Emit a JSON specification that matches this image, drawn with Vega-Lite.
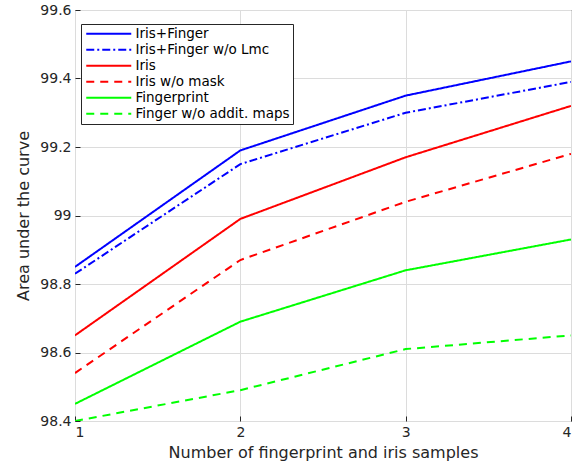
{
  "$schema": "https://vega.github.io/schema/vega-lite/v6.json",
  "width": 496,
  "height": 411,
  "autosize": "none",
  "padding": {"left": 75, "top": 10, "right": 10, "bottom": 50},
  "background": "white",
  "config": {
    "font": "DejaVu Sans",
    "view": {"stroke": "#262626", "strokeWidth": 1}
  },
  "data": {
    "values": [
      {"samples": 1, "series": "Iris+Finger", "auc": 98.85},
      {"samples": 2, "series": "Iris+Finger", "auc": 99.19},
      {"samples": 3, "series": "Iris+Finger", "auc": 99.35},
      {"samples": 4, "series": "Iris+Finger", "auc": 99.45},
      {"samples": 1, "series": "Iris+Finger w/o Lmc", "auc": 98.83},
      {"samples": 2, "series": "Iris+Finger w/o Lmc", "auc": 99.15},
      {"samples": 3, "series": "Iris+Finger w/o Lmc", "auc": 99.30},
      {"samples": 4, "series": "Iris+Finger w/o Lmc", "auc": 99.39},
      {"samples": 1, "series": "Iris", "auc": 98.65},
      {"samples": 2, "series": "Iris", "auc": 98.99},
      {"samples": 3, "series": "Iris", "auc": 99.17},
      {"samples": 4, "series": "Iris", "auc": 99.32},
      {"samples": 1, "series": "Iris w/o mask", "auc": 98.54},
      {"samples": 2, "series": "Iris w/o mask", "auc": 98.87},
      {"samples": 3, "series": "Iris w/o mask", "auc": 99.04},
      {"samples": 4, "series": "Iris w/o mask", "auc": 99.18},
      {"samples": 1, "series": "Fingerprint", "auc": 98.45},
      {"samples": 2, "series": "Fingerprint", "auc": 98.69},
      {"samples": 3, "series": "Fingerprint", "auc": 98.84},
      {"samples": 4, "series": "Fingerprint", "auc": 98.93},
      {"samples": 1, "series": "Finger w/o addit. maps", "auc": 98.40},
      {"samples": 2, "series": "Finger w/o addit. maps", "auc": 98.49},
      {"samples": 3, "series": "Finger w/o addit. maps", "auc": 98.61},
      {"samples": 4, "series": "Finger w/o addit. maps", "auc": 98.65}
    ]
  },
  "mark": {"type": "line", "strokeWidth": 2, "clip": true},
  "encoding": {
    "x": {
      "field": "samples",
      "type": "quantitative",
      "scale": {"domain": [1, 4], "nice": false, "zero": false},
      "axis": {
        "title": "Number of fingerprint and iris samples",
        "values": [1, 2, 3, 4],
        "format": "d",
        "domain": false,
        "tickSize": -5,
        "tickColor": "#262626",
        "gridColor": "#dcdcdc",
        "labelFontSize": 14,
        "labelColor": "#262626",
        "labelPadding": 9,
        "titleFontSize": 16,
        "titleFontWeight": "normal",
        "titleColor": "#262626",
        "titlePadding": 5
      }
    },
    "y": {
      "field": "auc",
      "type": "quantitative",
      "scale": {"domain": [98.4, 99.6], "nice": false, "zero": false},
      "axis": {
        "title": "Area under the curve",
        "values": [98.4, 98.6, 98.8, 99.0, 99.2, 99.4, 99.6],
        "format": "~g",
        "domain": false,
        "tickSize": -5,
        "tickColor": "#262626",
        "gridColor": "#dcdcdc",
        "labelFontSize": 14,
        "labelColor": "#262626",
        "labelPadding": 9,
        "titleFontSize": 16,
        "titleFontWeight": "normal",
        "titleColor": "#262626",
        "titlePadding": 8
      }
    },
    "color": {
      "field": "series",
      "type": "nominal",
      "scale": {
        "domain": ["Iris+Finger", "Iris+Finger w/o Lmc", "Iris", "Iris w/o mask", "Fingerprint", "Finger w/o addit. maps"],
        "range": ["#0000ff", "#0000ff", "#ff0000", "#ff0000", "#00ff00", "#00ff00"]
      },
      "legend": {
        "title": null,
        "orient": "none",
        "legendX": 6,
        "legendY": 14,
        "fillColor": "white",
        "strokeColor": "#262626",
        "padding": 3,
        "labelFontSize": 13.5,
        "labelColor": "black",
        "symbolType": "M-5,0H5",
        "symbolSize": 81,
        "symbolStrokeWidth": 2,
        "symbolOffset": 18,
        "labelOffset": 20,
        "rowPadding": 1
      }
    },
    "strokeDash": {
      "field": "series",
      "type": "nominal",
      "scale": {
        "domain": ["Iris+Finger", "Iris+Finger w/o Lmc", "Iris", "Iris w/o mask", "Fingerprint", "Finger w/o addit. maps"],
        "range": [[1, 0], [8, 3, 2, 3], [1, 0], [8, 6], [1, 0], [8, 6]]
      }
    }
  }
}
